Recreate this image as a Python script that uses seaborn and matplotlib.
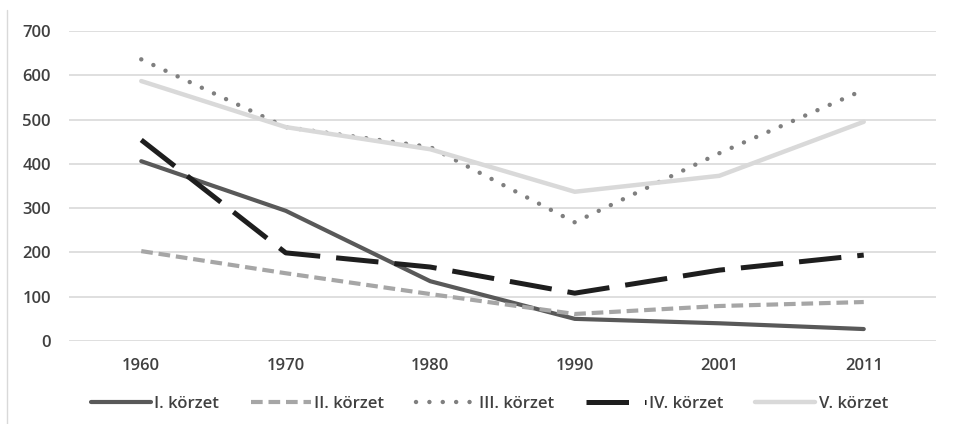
import numpy as np
import pandas as pd
import seaborn as sns
import matplotlib
matplotlib.use("Agg")
import matplotlib.pyplot as plt

# data
years = ["1960", "1970", "1980", "1990", "2001", "2011"]
korzet_1 = [406, 294, 135, 50, 40, 27]
korzet_2 = [203, 153, 106, 61, 79, 88]
korzet_3 = [636, 483, 438, 268, 424, 567]
korzet_4 = [454, 199, 167, 108, 160, 194]
korzet_5 = [587, 483, 433, 337, 373, 495]
labels = ["I. körzet", "II. körzet", "III. körzet", "IV. körzet", "V. körzet"]

series = [korzet_1, korzet_2, korzet_3, korzet_4, korzet_5]
df = pd.DataFrame({
    "ev": years * len(labels),
    "ertek": np.concatenate(series),
    "korzet": np.repeat(labels, len(years)),
})

colors = dict(zip(labels, ["#595959", "#a6a6a6", "#7f7f7f", "#1e1e1e", "#d9d9d9"]))
dashes = dict(zip(labels, ["", (2.8, 1.4), (0.01, 3.0), (8.5, 3.2), ""]))
widths = dict(zip(labels, [3.0, 3.0, 3.2, 3.6, 3.2]))

sns.set_style("white")
plt.rcParams["font.family"] = ["Open Sans", "DejaVu Sans"]
plt.rcParams["font.weight"] = "semibold"

fig = plt.figure(figsize=(9.55, 4.24), dpi=100)
ax = fig.add_axes([69 / 955, 83 / 424, 867 / 955, 310 / 424])

sns.lineplot(data=df, x="ev", y="ertek", hue="korzet", style="korzet",
             palette=colors, dashes=dashes, sort=False, ax=ax, legend=True)

for line, lab in zip(ax.lines, labels):
    line.set_linewidth(widths[lab])
    line.set_clip_on(False)
    if lab == "III. körzet":
        line.set_dash_capstyle("round")

ax.set_xlim(-0.5, 5.5)
ax.set_ylim(0, 700)
ax.set_yticks(range(0, 701, 100))
ax.yaxis.grid(True, color="#d9d9d9", lw=1.2)
ax.set_axisbelow(True)
for s in ax.spines.values():
    s.set_visible(False)
ax.set_xlabel("")
ax.set_ylabel("")
ax.tick_params(axis="both", length=0, labelsize=12, labelcolor="#404040")
ax.tick_params(axis="x", pad=12)
ax.tick_params(axis="y", pad=13)

handles, _ = ax.get_legend_handles_labels()
for h, lab in zip(handles, labels):
    h.set_linewidth(widths[lab])
    if lab == "III. körzet":
        h.set_dash_capstyle("round")
leg = ax.legend(handles, labels, loc="upper center", bbox_to_anchor=(0.485, -0.13),
                ncol=5, frameon=False, fontsize=12, handlelength=3.6,
                handletextpad=0.2, columnspacing=1.9)
for t in leg.get_texts():
    t.set_color("#404040")

# thin frame line on the left
fig.add_artist(plt.Line2D([7 / 955, 7 / 955], [0.0, 414 / 424], color="#d9d9d9", lw=1))

fig.savefig("out.png", dpi=100)
